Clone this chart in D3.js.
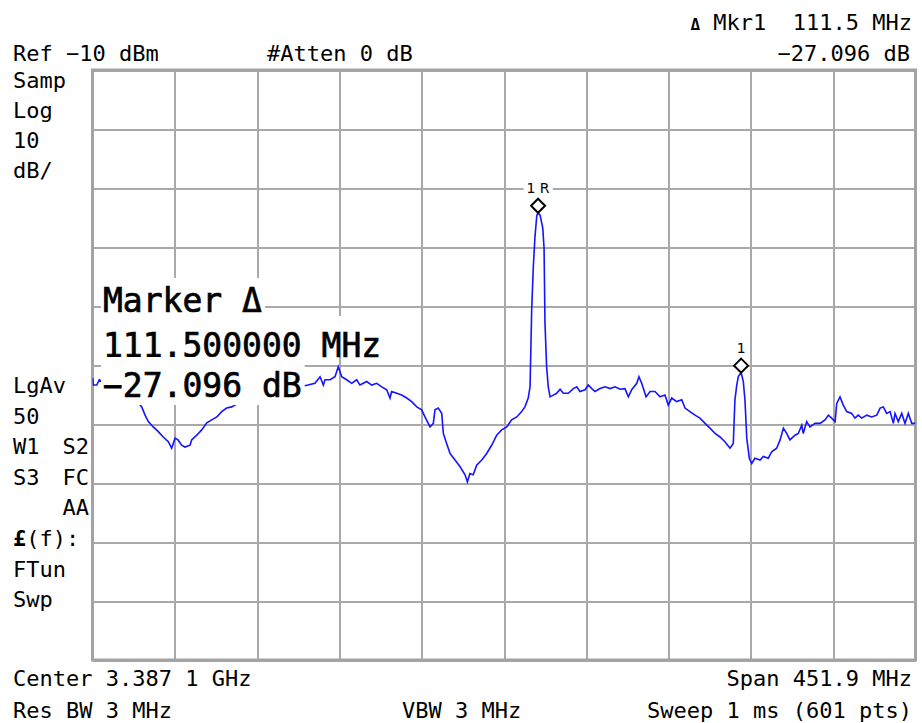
<!DOCTYPE html>
<html>
<head>
<meta charset="utf-8">
<script src="https://cdn.jsdelivr.net/npm/d3@7"></script>
<style>
  body { margin: 0; background: #fff; }
  svg { display: block; }
  text { font-family: "DejaVu Sans Mono", "Liberation Mono", monospace; fill: #000; white-space: pre; }
</style>
</head>
<body>
<svg id="chart" width="922" height="723"></svg>
<script>
// Instrument settings
const centerMHz = 3387.1;
const spanMHz = 451.9;
const refLevelDbm = -10;
const dbPerDiv = 10;
const divisions = 10;

// Swept trace: frequency (MHz) and level (dBm)
const traceFreqMHz = [
  3161.3,3161.6,3163.5,3164.9,3167.5,3170.8,3174.1,3177.3,3180.6,3183.9,
  3186.1,3188.2,3190.0,3191.8,3194.5,3197.3,3200.0,3202.8,3204.6,3206.5,
  3208.1,3210.1,3211.9,3214.7,3215.6,3218.4,3221.1,3223.9,3226.6,3229.4,
  3232.1,3234.8,3237.6,3242.1,3247.6,3253.1,3258.6,3264.1,3269.6,3275.1,
  3279.5,3283.3,3286.1,3287.9,3288.8,3291.6,3294.3,3296.1,3298.0,3300.7,
  3303.5,3306.2,3308.0,3311.7,3314.5,3317.2,3320.0,3322.7,3324.5,3325.4,
  3328.2,3330.9,3333.7,3336.4,3339.2,3341.9,3343.7,3346.5,3348.3,3349.2,
  3351.0,3352.9,3353.8,3355.6,3357.5,3360.2,3362.9,3365.7,3367.0,3368.4,
  3370.2,3372.1,3374.9,3377.6,3380.3,3383.1,3385.8,3388.6,3391.3,3394.1,
  3396.8,3398.6,3400.4,3401.4,3402.3,3403.2,3404.1,3405.1,3405.8,3406.9,
  3408.4,3409.1,3409.6,3410.5,3411.4,3412.4,3414.2,3416.0,3417.9,3419.7,
  3422.4,3425.2,3427.0,3428.8,3431.6,3433.4,3435.3,3437.1,3439.8,3442.6,
  3445.3,3448.1,3450.8,3453.5,3455.4,3457.2,3460.0,3461.2,3462.7,3465.1,
  3467.3,3470.0,3472.8,3475.5,3477.3,3479.2,3481.9,3484.7,3486.5,3489.2,
  3492.0,3494.7,3497.5,3500.2,3503.0,3505.7,3508.4,3511.2,3513.0,3513.9,
  3514.9,3515.8,3517.3,3518.5,3519.4,3520.4,3521.8,3523.1,3524.9,3527.7,
  3529.5,3532.2,3534.1,3536.8,3538.7,3540.5,3542.3,3544.1,3546.9,3548.7,
  3550.6,3551.4,3553.3,3555.1,3557.9,3560.6,3563.4,3565.2,3567.0,3568.9,
  3569.8,3571.6,3573.4,3575.3,3578.0,3579.8,3581.6,3583.5,3586.3,3589.0,
  3591.8,3593.6,3595.4,3597.2,3599.1,3600.9,3601.8,3603.6,3605.5,3607.3,
  3609.1,3611.0,3612.8,3613.0
];
const traceLevelDbm = [
  -62.2,-63.4,-63.4,-62.5,-63.1,-63.6,-64.1,-64.6,-65.3,-65.8,
  -66.3,-67.1,-68.5,-69.6,-70.5,-71.3,-72.2,-73.0,-74.1,-72.4,
  -72.7,-73.6,-73.9,-73.6,-72.7,-71.9,-71.0,-69.8,-69.3,-68.8,
  -67.9,-67.3,-67.1,-66.3,-65.8,-65.3,-64.9,-64.4,-64.1,-63.7,
  -63.4,-63.1,-62.0,-63.4,-62.5,-62.5,-62.0,-60.3,-62.0,-62.5,
  -63.1,-62.5,-63.4,-62.8,-63.4,-63.1,-63.7,-64.2,-65.6,-64.5,
  -64.8,-65.1,-65.6,-66.2,-67.1,-67.6,-68.8,-70.5,-69.9,-67.6,
  -67.3,-68.2,-71.6,-73.3,-75.0,-76.1,-77.2,-78.6,-79.8,-78.4,
  -78.6,-77.0,-76.1,-75.0,-73.6,-71.9,-71.0,-70.5,-69.3,-68.8,
  -67.9,-67.1,-65.6,-63.7,-50.7,-43.3,-38.3,-34.7,-34.2,-34.6,
  -36.8,-40.2,-52.9,-60.3,-63.7,-65.4,-65.1,-64.8,-64.1,-64.8,
  -64.8,-64.0,-63.7,-64.5,-64.2,-63.4,-64.0,-64.5,-64.0,-63.7,
  -64.0,-63.7,-64.1,-64.0,-65.4,-64.2,-63.1,-62.0,-63.1,-65.4,
  -64.5,-64.5,-65.4,-65.1,-66.8,-65.6,-66.2,-65.9,-67.3,-67.9,
  -68.5,-69.0,-69.9,-70.7,-71.6,-72.2,-73.0,-74.1,-73.3,-65.9,
  -63.4,-61.9,-61.296,-62.8,-65.9,-72.4,-75.8,-76.7,-75.8,-76.1,
  -75.5,-75.8,-74.7,-74.1,-72.7,-70.7,-71.6,-72.7,-71.9,-71.6,
  -70.2,-71.6,-69.6,-70.5,-69.9,-69.9,-69.3,-68.5,-69.0,-69.6,
  -66.5,-65.4,-66.8,-67.9,-68.2,-69.0,-68.5,-69.0,-68.5,-68.8,
  -68.5,-67.3,-67.1,-68.2,-67.9,-69.9,-68.2,-69.6,-68.2,-69.9,
  -68.2,-69.9,-69.9,-69.9
];

// Delta marker: reference marker on the carrier, marker 1 offset from it
const markerRefFreqMHz = 3405.8;
const markerRefLevelDbm = -34.2;
const markerDeltaFreqMHz = 111.5;
const markerDeltaDb = -27.096;

// Annotation texts
const leftTopLabels = ["Samp", "Log", "10", "dB/"];
const leftLowLabels = [["LgAv", ""], ["50", ""], ["W1", "S2"], ["S3", "FC"], ["", "AA"]];
const leftBottomLabels = ["FTun", "Swp"];
const settingsText = { ref: "Ref \u221210 dBm", atten: "#Atten 0 dB", center: "Center 3.387 1 GHz",
  span: "Span 451.9 MHz", rbw: "Res BW 3 MHz", vbw: "VBW 3 MHz", sweep: "Sweep 1 ms (601 pts)" };

const svg = d3.select("#chart");
const plot = { left: 92.5, right: 915.5, top: 70, bottom: 660 };

const startMHz = centerMHz - spanMHz / 2;
const stopMHz = centerMHz + spanMHz / 2;
const bottomDbm = refLevelDbm - dbPerDiv * divisions;

const x = d3.scaleLinear().domain([startMHz, stopMHz]).range([plot.left, plot.right]);
const y = d3.scaleLinear().domain([bottomDbm, refLevelDbm]).range([plot.bottom, plot.top]);

const gridColor = "#a9a9a9";

// Graticule
const xTicks = d3.range(divisions + 1).map(i => startMHz + i * spanMHz / divisions);
const yTicks = d3.range(divisions + 1).map(i => bottomDbm + i * dbPerDiv);

const gx = svg.append("g")
  .attr("transform", `translate(0,${plot.bottom})`)
  .call(d3.axisBottom(x).tickValues(xTicks).tickSize(-(plot.bottom - plot.top)).tickFormat(""));
const gy = svg.append("g")
  .attr("transform", `translate(${plot.left},0)`)
  .call(d3.axisLeft(y).tickValues(yTicks).tickSize(-(plot.right - plot.left)).tickFormat(""));
[gx, gy].forEach(g => {
  g.select(".domain").remove();
  g.selectAll(".tick line").attr("stroke", gridColor).attr("stroke-width", 2).attr("shape-rendering", "crispEdges");
});

svg.append("rect")
  .attr("x", plot.left).attr("y", plot.top)
  .attr("width", plot.right - plot.left).attr("height", plot.bottom - plot.top)
  .attr("fill", "none").attr("stroke", "#a3a3a3").attr("stroke-width", 3);

// Trace
svg.append("clipPath").attr("id", "plotClip").append("rect")
  .attr("x", plot.left).attr("y", plot.top)
  .attr("width", plot.right - plot.left).attr("height", plot.bottom - plot.top);

const trace = traceFreqMHz.map((f, i) => ({ f, v: traceLevelDbm[i] }));
svg.append("path")
  .datum(trace)
  .attr("clip-path", "url(#plotClip)")
  .attr("fill", "none")
  .attr("stroke", "#1414ff")
  .attr("stroke-width", 1.6)
  .attr("stroke-linejoin", "miter")
  .attr("d", d3.line().x(d => x(d.f)).y(d => y(d.v)));

// Marker diamonds and their labels
const markers = [
  { f: markerRefFreqMHz, v: markerRefLevelDbm, label: "1 R" },
  { f: markerRefFreqMHz + markerDeltaFreqMHz, v: markerRefLevelDbm + markerDeltaDb, label: "1" }
];
const half = 7;
markers.forEach(m => {
  const cx = x(m.f), cy = y(m.v) - half;
  const lbl = svg.append("text")
    .attr("x", cx).attr("y", cy - half - 6)
    .attr("text-anchor", "middle")
    .style("font-family", "'DejaVu Sans', sans-serif")
    .style("font-size", "14px")
    .text(m.label);
  const bb = lbl.node().getBBox();
  svg.insert("rect", () => lbl.node())
    .attr("x", bb.x - 3).attr("y", bb.y).attr("width", bb.width + 6).attr("height", bb.height)
    .attr("fill", "#fff");
  svg.append("path")
    .attr("d", `M${cx},${cy - half}L${cx + half},${cy}L${cx},${cy + half}L${cx - half},${cy}Z`)
    .attr("fill", "#fff").attr("stroke", "#000").attr("stroke-width", 2);
});

// Large marker readout with opaque backing per line
const readout = [
  { text: "Marker \u0394", baseline: 312, top: 278, bottom: 316 },
  { text: d3.format(".6f")(markerDeltaFreqMHz) + " MHz", baseline: 357, top: 316, bottom: 357 },
  { text: d3.format(".3f")(markerDeltaDb) + " dB", baseline: 397, top: 357, bottom: 405 }
];
readout.forEach(r => {
  const t = svg.append("text")
    .attr("x", 103).attr("y", r.baseline)
    .style("font-size", "33px")
    .attr("stroke", "#000").attr("stroke-width", 0.7)
    .text(r.text);
  const bb = t.node().getBBox();
  svg.insert("rect", () => t.node())
    .attr("x", 101).attr("y", r.top)
    .attr("width", bb.x + bb.width + 3 - 101).attr("height", r.bottom - r.top)
    .attr("fill", "#fff");
});

// Settings annotations
const small = "22px";
function label(txt, xPos, yPos, anchor) {
  return svg.append("text").attr("x", xPos).attr("y", yPos)
    .attr("text-anchor", anchor || "start").style("font-size", small).text(txt);
}

const hdr = svg.append("text").attr("x", 912).attr("y", 30).attr("text-anchor", "end").style("font-size", small);
hdr.append("tspan").style("font-size", "16px").style("font-weight", "bold").text("\u0394");
hdr.append("tspan").text(" Mkr1  " + d3.format(".1f")(markerDeltaFreqMHz) + " MHz");
label(d3.format(".3f")(markerDeltaDb) + " dB", 910, 61, "end");

label(settingsText.ref, 13, 61);
label(settingsText.atten, 267, 61);

leftTopLabels.forEach((s, i) => label(s, 13, 88 + i * 30));
leftLowLabels.forEach((pair, i) => {
  const yy = 393 + i * 30.6;
  if (pair[0]) label(pair[0], 13, yy);
  if (pair[1]) label(pair[1], 89, yy, "end");
});
const fLabel = svg.append("text").attr("x", 13).attr("y", 546).style("font-size", small);
fLabel.append("tspan").style("font-weight", "bold").text("\u00a3");
fLabel.append("tspan").text("(f):");
leftBottomLabels.forEach((s, i) => label(s, 13, 577 + i * 30));

label(settingsText.center, 13, 686);
label(settingsText.span, 912, 686, "end");
label(settingsText.rbw, 13, 718);
label(settingsText.vbw, 402, 718);
label(settingsText.sweep, 912, 718, "end");
</script>
</body>
</html>
